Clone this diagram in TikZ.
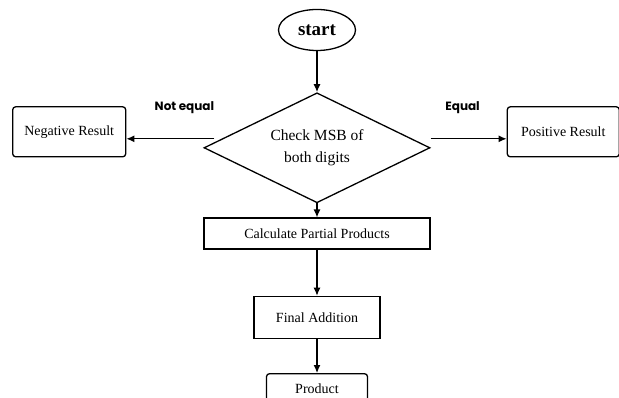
\documentclass[tikz,border=0pt]{standalone}
\usepackage{fontspec}
\setmainfont{Liberation Serif}
\newfontfamily\lblfont{Poppins}
\usetikzlibrary{arrows.meta,shapes.geometric,positioning}

\begin{document}
\begin{tikzpicture}[->,>={Latex[length=8pt,width=7pt]},line width=1.3pt,
                    font=\fontsize{14}{16}\selectfont]
  \tikzstyle{box}=[draw,rectangle,inner sep=0pt,align=center]
  \tikzstyle{rbox}=[box,rounded corners=3pt]
  \tikzstyle{lbl}=[font=\lblfont\bfseries\fontsize{12}{14}\selectfont,inner sep=0pt]

  \useasboundingbox (0,0) rectangle (619pt,-398pt);

  \node[draw,ellipse,minimum width=77pt,minimum height=41pt,inner sep=0pt,
        font=\bfseries\fontsize{19}{21}\selectfont] (start) at (317pt,-30pt) {start};
  \node[draw,diamond,aspect=2,minimum width=226pt,minimum height=110pt,inner sep=2pt,
        align=center,font=\fontsize{15.5}{22}\selectfont] (check) [below=41pt of start] {Check MSB of\\both digits};
  \node[rbox,minimum width=113pt,minimum height=50pt] (neg) [left=77pt of check,yshift=16pt] {Negative Result};
  \node[rbox,minimum width=112pt,minimum height=50pt] (pos) [right=76pt of check,yshift=16pt] {Positive Result};
  \node[box,minimum width=226pt,minimum height=31pt] (calc) [below=14pt of check] {Calculate Partial Products};
  \node[box,minimum width=126pt,minimum height=42pt] (final) [below=46pt of calc] {Final Addition};
  \node[rbox,minimum width=101pt,minimum height=31pt] (prod) [below=34pt of final] {Product};

  \coordinate (nl) at ([yshift=-7pt]neg.east);
  \coordinate (pr) at ([yshift=-7pt]pos.west);

  \path (start) edge (check)
        (check) edge (calc)
        (calc)  edge (final)
        (final) edge (prod);
  \draw (nl -| check.west) ++(11pt,0) -- node[lbl,above=24pt,pos=0.34] {Not equal} (nl);
  \draw (pr -| check.east) -- node[lbl,above=24pt,pos=0.42] {Equal} (pr);
\end{tikzpicture}
\end{document}
